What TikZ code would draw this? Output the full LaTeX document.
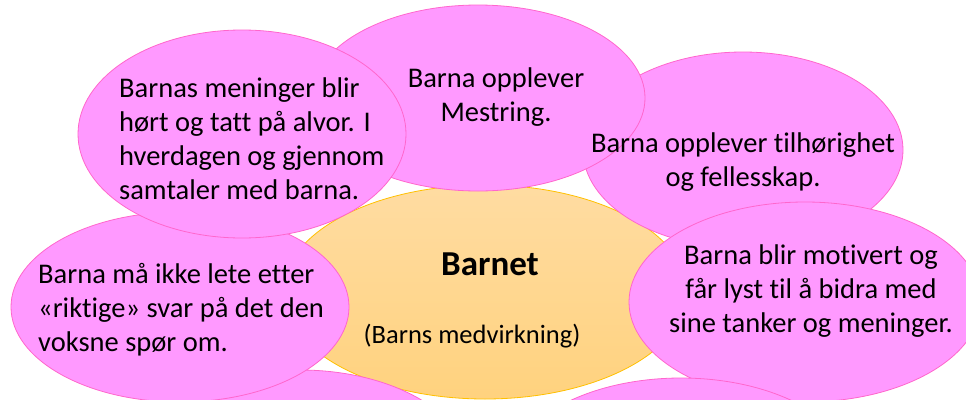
\documentclass[tikz,border=0pt]{standalone}
\usepackage{fontspec}
\setmainfont[Ligatures=NoCommon]{Carlito}
\definecolor{bubblepink}{HTML}{FF99FF}
\definecolor{bubbleline}{HTML}{FF66CC}
\definecolor{coretop}{HTML}{FFDCA2}
\definecolor{corebot}{HTML}{FFD27E}
\definecolor{coreline}{HTML}{FFC000}
\begin{document}
\begin{tikzpicture}[x=1pt,y=-1pt,
		bubble/.style={fill=bubblepink,draw=bubbleline,line width=0.8pt},
		core/.style={top color=coretop,bottom color=corebot,draw=coreline,line width=0.8pt},
		txt/.style={inner sep=0pt,font=\fontsize{28.5}{34}\selectfont}]
		\useasboundingbox (0,0) rectangle (966,399);
		\clip (0,0) rectangle (966,399);

		% centre first, bubbles on top of it
		\draw[core] (485,292) ellipse [x radius=202pt, y radius=107pt];
		\draw[bubble] (300,470) ellipse [x radius=170pt, y radius=100pt];
		\draw[bubble] (180,307) ellipse [x radius=169pt, y radius=95pt];
		\draw[bubble] (743,150) ellipse [x radius=160pt, y radius=98pt];
		\draw[bubble] (478,98) ellipse [x radius=167pt, y radius=93pt];
		\draw[bubble] (242,134) ellipse [x radius=164pt, y radius=104pt];
		\draw[bubble] (805,302) ellipse [x radius=176pt, y radius=100pt];
		\draw[bubble] (681,478) ellipse [x radius=175pt, y radius=100pt];

		% anchor base = baseline of the last line
		\node[txt,anchor=base west,align=left] (hoert) at (119,199) {Barnas meninger blir\\hørt og tatt på alvor. I\\hverdagen og gjennom\\samtaler med barna.};
		\node[txt,anchor=base,align=center] (mestring) at (496,121) {Barna opplever\\Mestring.};
		\node[txt,anchor=base,align=center] (tilhoer) at (743,186) {Barna opplever tilhørighet\\og fellesskap.};
		\node[txt,anchor=base,align=center] (motivert) at (811,332) {Barna blir motivert og\\får lyst til å bidra med\\sine tanker og meninger.};
		\node[txt,anchor=base west,align=left] (riktige) at (38,351) {Barna må ikke lete etter\\«riktige» svar på det den\\voksne spør om.};
		\node[txt,anchor=base,font=\fontsize{35}{40}\selectfont\bfseries] (barnet) at (490,275) {Barnet};
		\node[txt,anchor=base,font=\fontsize{26.5}{32}\selectfont] (medv) at (472,343) {(Barns medvirkning)};
	\end{tikzpicture}
\end{document}
